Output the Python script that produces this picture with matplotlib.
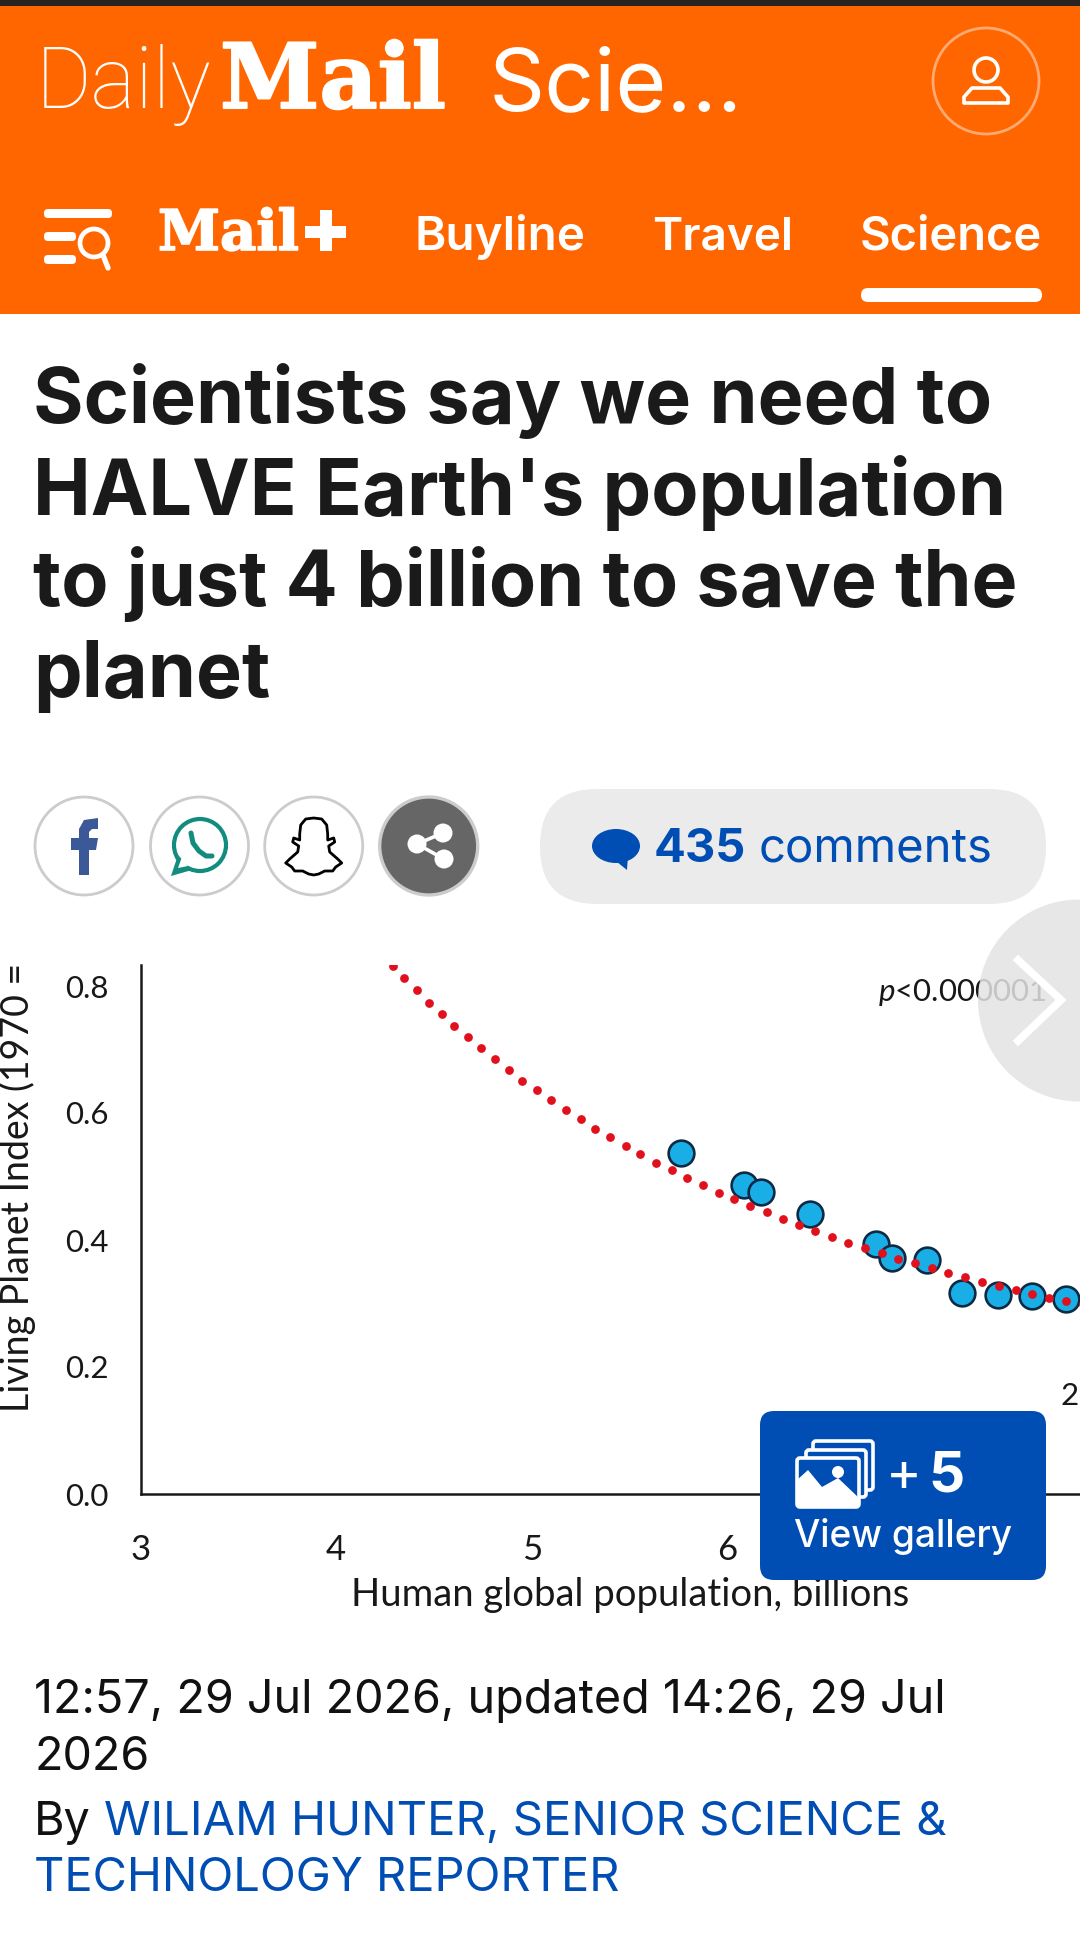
"""
Daily Mail article screenshot: population vs living planet index chart with the page around it.
"""

import matplotlib
matplotlib.use("Agg")
import matplotlib.pyplot as plt
import matplotlib.patheffects as pe
from matplotlib.patches import Circle, Ellipse, FancyBboxPatch, Polygon, Rectangle

matplotlib.rcParams.update({"mathtext.fontset": "custom", "mathtext.it": "Lato:italic", "mathtext.rm": "Lato"})

orange = "#ff6600"
blue = "#004db3"
ink = "#1a1a1a"

# chart data
population = [5.76, 6.085, 6.17, 6.42, 6.757, 6.84, 7.02, 7.20, 7.38, 7.556, 7.73]
lpi = [0.5375, 0.487, 0.476, 0.441, 0.393, 0.372, 0.369, 0.3166, 0.314, 0.3118, 0.3075]

trend_x = [4.288, 4.348, 4.411, 4.474, 4.541, 4.604, 4.675, 4.742, 4.809, 4.883, 4.949, 5.024,
           5.098, 5.172, 5.249, 5.324, 5.401, 5.479, 5.554, 5.634, 5.714, 5.793, 5.873, 5.955,
           6.034, 6.116, 6.200, 6.282, 6.365, 6.448, 6.533, 6.617, 6.702, 6.787, 6.872, 6.958,
           7.043, 7.128, 7.213, 7.300, 7.387, 7.472, 7.557, 7.644, 7.731, 7.817]
trend_y = [0.8315, 0.813, 0.794, 0.774, 0.756, 0.7375, 0.720, 0.702, 0.6846, 0.668, 0.651, 0.636,
           0.620, 0.604, 0.590, 0.575, 0.562, 0.548, 0.535, 0.522, 0.510, 0.498, 0.487, 0.4745,
           0.464, 0.4535, 0.4435, 0.4325, 0.4236, 0.4137, 0.4047, 0.3958, 0.3874, 0.379, 0.3706, 0.3633,
           0.3554, 0.3485, 0.3417, 0.3343, 0.3276, 0.3208, 0.315, 0.309, 0.304, 0.299]

x_ticks = [3, 4, 5, 6]
y_ticks = [0.0, 0.2, 0.4, 0.6, 0.8]
title_lines = ["Scientists say we need to", "HALVE Earth's population", "to just 4 billion to save the", "planet"]
nav_items = ["Buyline", "Travel", "Science"]

W, H = 1080, 1946
fig = plt.figure(figsize=(W / 100, H / 100), dpi=100, facecolor="white")

# chart, placed so that 3 / 0.0 fall on the pixels of the original axes
left, bottom, top = 140.5, 1494, 965
ax = fig.add_axes([left / W, 1 - bottom / H, (W - left) / W, (bottom - top) / H])
ax.set_xlim(3, 3 + (W - left) / 195.7)
ax.set_ylim(0, (bottom - top) / 635)
ax.spines["top"].set_visible(False)
ax.spines["right"].set_visible(False)
ax.spines["left"].set_linewidth(1.8)
ax.spines["bottom"].set_linewidth(1.8)
ax.spines["left"].set_color("#1a1a1a")
ax.spines["bottom"].set_color("#1a1a1a")
ax.set_xticks(x_ticks)
ax.set_yticks(y_ticks)
ax.set_yticklabels(["%.1f" % v for v in y_ticks])
ax.tick_params(axis="both", length=0, labelcolor="#181818")
ax.tick_params(axis="x", pad=29, labelsize=25)
ax.tick_params(axis="y", pad=23, labelsize=22.5)
for lab in ax.get_xticklabels() + ax.get_yticklabels():
    lab.set_family("Lato")

ax.plot(population, lpi, "o", ms=18.5, mfc="#1aaee6", mec="#0c2a44", mew=1.9, zorder=3)
ax.plot(trend_x, trend_y, "o", ms=6.3, mfc="#e0101c", mec="none", zorder=4)

ax.set_xlabel("Human global population, billions", family="Lato", fontsize=27.5, color="#181818", va="center")
ax.xaxis.set_label_coords(0.521, -0.191)
ax.set_ylabel("Living Planet Index (1970 =", family="Lato", fontsize=27, color="#181818", va="center", ha="left")
ax.yaxis.set_label_coords(-0.131, 0.155)
ax.text(6.77, 0.789, r"$\mathit{p}$<0.000001", family="Lato", fontsize=22.5, color="#181818", va="center")
ax.text(7.70, 0.154, "2", family="Lato", fontsize=22.5, color="#181818", va="center")

# everything else is page furniture, drawn in pixel coordinates on top
ui = fig.add_axes([0, 0, 1, 1], facecolor="none")
ui.set_xlim(0, W)
ui.set_ylim(H, 0)
ui.axis("off")
renderer = fig.canvas.get_renderer()


def put(x, y, s, width=None, size=20, color="white", family="Inter", **kw):
    t = ui.text(x, y, s, fontsize=size, color=color, family=family, va="baseline", **kw)
    if width:
        t.set_fontsize(size * width / t.get_window_extent(renderer).width)
    return t


def rounded(x0, y0, x1, y1, r, **kw):
    p = FancyBboxPatch((x0 + r, y0 + r), x1 - x0 - 2 * r, y1 - y0 - 2 * r,
                       boxstyle="round,pad=%g,rounding_size=%g" % (r, r), **kw)
    ui.add_patch(p)


# header
ui.add_patch(Rectangle((0, 6), W, 308, fc=orange, ec="none"))
ui.add_patch(Rectangle((0, 0), W, 6, fc="#2a2321", ec="none"))
put(36, 108, "Daily", width=176, family="Roboto", weight="light")
mail = put(220, 108, "Mail", width=226, family="DejaVu Serif", weight="bold")
mail.set_path_effects([pe.withStroke(linewidth=1.5, foreground="white")])
put(489, 110, "Scie...", width=252, family="Inter")
ui.add_patch(Circle((986, 81), 53, fc="none", ec="white", alpha=0.45, lw=2))
ui.add_patch(Circle((986, 70), 12, fc="none", ec="white", lw=2.6))
ui.add_patch(Polygon([(964, 103), (1008, 103), (1008, 97), (1000, 88), (972, 88), (964, 97)],
                     fc="none", ec="white", lw=2.6, joinstyle="round"))

# nav row
rounded(44, 209, 112, 218, 4, fc="white", ec="none")
rounded(44, 232, 76, 241, 4, fc="white", ec="none")
rounded(44, 255, 76, 264, 4, fc="white", ec="none")
ui.add_patch(Circle((94, 243), 14, fc="none", ec="white", lw=3.4))
ui.plot([103, 108], [255, 268], color="white", lw=3.8, solid_capstyle="round")
small_mail = put(158, 250, "Mail", width=141, family="DejaVu Serif", weight="bold")
small_mail.set_path_effects([pe.withStroke(linewidth=1.2, foreground="white")])
ui.add_patch(Rectangle((305, 226), 41, 12, fc="white", ec="none"))
ui.add_patch(Rectangle((320, 210), 12, 41, fc="white", ec="none"))
for name, x0, w in zip(nav_items, [414, 652, 860], [171, 141, 183]):
    put(x0, 250, name, width=w, weight="semibold")
rounded(861, 288, 1042, 302, 7, fc="white", ec="none")

# headline
t = put(33, 423, title_lines[0], width=960, color=ink, weight="bold")
title_size = t.get_fontsize()
for line, y in zip(title_lines[1:], [515, 606, 697]):
    put(33, y, line, size=title_size, color=ink, weight="bold")

# share buttons
for cx in [84, 199.5, 313.7]:
    ui.add_patch(Circle((cx, 846), 49, fc="white", ec="#cccccc", lw=2))
ui.add_patch(Circle((428.7, 846), 49, fc="#666666", ec="#cccccc", lw=2.4))
ui.add_patch(Polygon([(79, 875), (79, 850), (71, 850), (71, 838), (79, 838), (79, 829), (84, 820), (98, 818),
                      (98, 829), (92, 829), (89, 832), (89, 838), (98, 838), (96, 850), (89, 850), (89, 875)],
                     fc="#3b5998", ec="none"))
ui.add_patch(Circle((200, 845), 26, fc="none", ec="#128c7e", lw=3))
ui.add_patch(Polygon([(171, 876), (178, 855), (192, 870)], fc="#128c7e", ec="none"))
ui.add_patch(Polygon([(178, 868), (182, 857), (188, 866)], fc="white", ec="none"))
ui.plot([191, 193, 199, 206, 212], [833, 843, 851, 856, 856], color="#128c7e", lw=3.6, solid_capstyle="round")
half = [(0, -28), (8, -27), (13, -21), (14, -12), (14, -6), (20, -8), (21, -4), (15, 0), (16, 6),
        (24, 13), (28, 17), (22, 21), (19, 25), (11, 25), (5, 28), (0, 29)]
ghost = [(313.7 + a, 846 + b) for a, b in half] + [(313.7 - a, 846 + b) for a, b in half[::-1]]
ui.add_patch(Polygon(ghost, fc="white", ec="black", lw=2, joinstyle="round"))
ui.plot([443, 417, 444], [833, 844, 859], color="white", lw=2.6)
for sx, sy in [(443, 833), (417, 844), (444, 859)]:
    ui.add_patch(Circle((sx, sy), 9.5, fc="white", ec="none"))

# comments pill
rounded(540, 789, 1046, 904, 57, fc="#ebebeb", ec="none")
ui.add_patch(Ellipse((616, 846), 48, 34, fc=blue, ec="none"))
ui.add_patch(Polygon([(612, 858), (627, 870), (628, 855)], fc=blue, ec="none"))
put(654, 862, "435", width=92, color=blue, weight="bold")
put(759, 862, "comments", width=234, color=blue)

# next image button sits over the chart
ui.add_patch(Circle((1079, 1000.5), 101, fc="#e3e3e3", ec="none", alpha=0.85))
ui.plot([1018, 1061, 1018], [960, 1000, 1041], color="white", lw=5.5, solid_joinstyle="miter")

# gallery button
rounded(760, 1411, 1046, 1580, 14, fc=blue, ec="none")
rounded(813, 1441, 873, 1490, 3, fc=blue, ec="white", lw=2.6)
rounded(806, 1450, 866, 1497, 3, fc=blue, ec="white", lw=2.6)
rounded(797, 1458, 859, 1507, 3, fc=blue, ec="white", lw=2.6)
ui.add_patch(Polygon([(797, 1507), (797, 1480), (808, 1470), (822, 1487), (838, 1478), (859, 1498), (859, 1507)],
                     fc="white", ec="none"))
ui.add_patch(Circle((838, 1472), 6, fc="white", ec="none"))
put(886, 1491, "+", width=36, weight="regular")
put(928, 1492, "5", width=36, weight="bold")
put(794, 1547, "View gallery", width=218, weight="medium")

# byline
t = put(34, 1713, "12:57, 29 Jul 2026, updated 14:26, 29 Jul", width=913, color="#111111")
meta = t.get_fontsize()
put(34, 1770, "2026", size=meta, color="#111111")
put(34, 1835, "By", size=meta, color="#111111")
put(104.5, 1835, "WILIAM HUNTER, SENIOR SCIENCE &", width=847, color=blue)
put(34, 1891, "TECHNOLOGY REPORTER", width=588, color=blue)

fig.savefig("out.png", dpi=100, facecolor="white")
